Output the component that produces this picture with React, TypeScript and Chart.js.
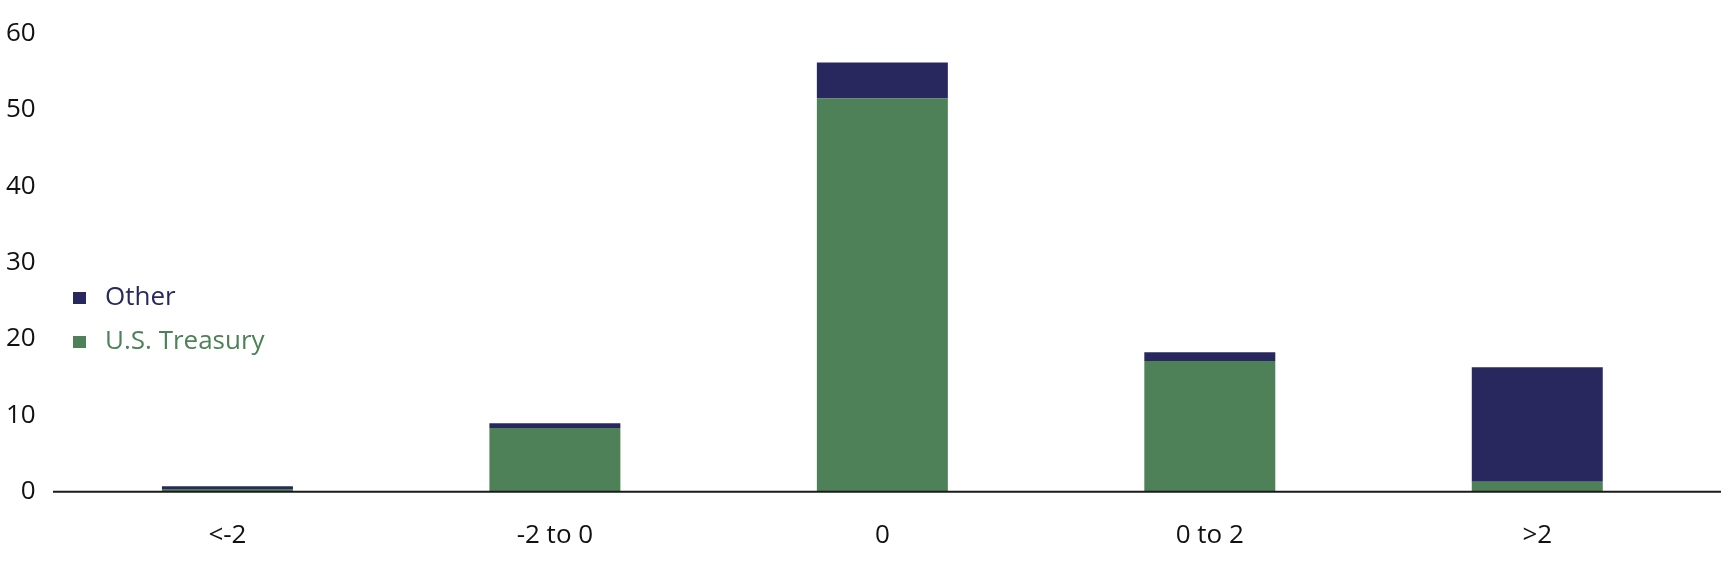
import React, { useEffect, useRef } from "react";
import { Chart, registerables } from "chart.js";

Chart.register(...registerables);

const categories = ["<-2", "-2 to 0", "0", "0 to 2", ">2"];
const treasuryValues = [0.35, 8.35, 51.5, 17.1, 1.3];
const otherValues = [0.35, 0.6, 4.7, 1.15, 15.0];
const yTicks = [0, 10, 20, 30, 40, 50, 60];

const GREEN = "#4E8157";
const NAVY = "#28285F";
const FONT = "'Open Sans', 'Noto Sans', sans-serif";

const legendPlugin = {
  id: "customLegend",
  afterDraw(chart: any) {
    const ctx = chart.ctx;
    const items = [
      { label: "Other", color: NAVY, y: 298 },
      { label: "U.S. Treasury", color: GREEN, y: 342 },
    ];
    ctx.save();
    ctx.font = `26px ${FONT}`;
    ctx.textBaseline = "middle";
    items.forEach((it) => {
      ctx.fillStyle = it.color;
      ctx.fillRect(73, it.y - 6, 13, 12);
      ctx.fillText(it.label, 105, it.y);
    });
    ctx.restore();
  },
};

const baselinePlugin = {
  id: "baseline",
  afterDatasetsDraw(chart: any) {
    const ctx = chart.ctx;
    const y = chart.scales.y.getPixelForValue(0);
    ctx.save();
    ctx.strokeStyle = "#1a1a1a";
    ctx.lineWidth = 2;
    ctx.beginPath();
    ctx.moveTo(53, y);
    ctx.lineTo(1721, y);
    ctx.stroke();
    ctx.restore();
  },
};

export default function App() {
  const ref = useRef<HTMLCanvasElement>(null);
  useEffect(() => {
    document.body.style.margin = "0";
    const chart = new Chart(ref.current!, {
      type: "bar",
      data: {
        labels: categories,
        datasets: [
          { label: "U.S. Treasury", data: treasuryValues, backgroundColor: GREEN, barPercentage: 0.4, categoryPercentage: 1 },
          { label: "Other", data: otherValues, backgroundColor: NAVY, barPercentage: 0.4, categoryPercentage: 1 },
        ],
      },
      options: {
        animation: false,
        responsive: false,
        maintainAspectRatio: false,
        layout: { padding: { top: 33.5, right: 31, bottom: 0, left: 0 } },
        plugins: { legend: { display: false }, tooltip: { enabled: false } },
        scales: {
          x: {
            stacked: true,
            grid: { display: false, drawTicks: false },
            border: { display: false },
            ticks: { color: "#111", font: { family: FONT, size: 26 }, padding: 28 },
            afterFit: (s: any) => { s.height = 92.3; s.paddingLeft = 0; s.paddingRight = 0; },
          },
          y: {
            stacked: true,
            min: 0,
            max: 60,
            afterBuildTicks: (s: any) => { s.ticks = yTicks.map((v) => ({ value: v })); },
            grid: { display: false, drawTicks: false },
            border: { display: false },
            ticks: { color: "#111", font: { family: FONT, size: 26 }, padding: 28 },
            afterFit: (s: any) => { s.width = 63.7; s.paddingTop = 0; s.paddingBottom = 0; },
          },
        },
      },
      plugins: [legendPlugin, baselinePlugin],
    });
    return () => chart.destroy();
  }, []);
  return (
    <div style={{ width: 1732, height: 584 }}>
      <canvas ref={ref} width={1732} height={584} style={{ display: "block" }} />
    </div>
  );
}
